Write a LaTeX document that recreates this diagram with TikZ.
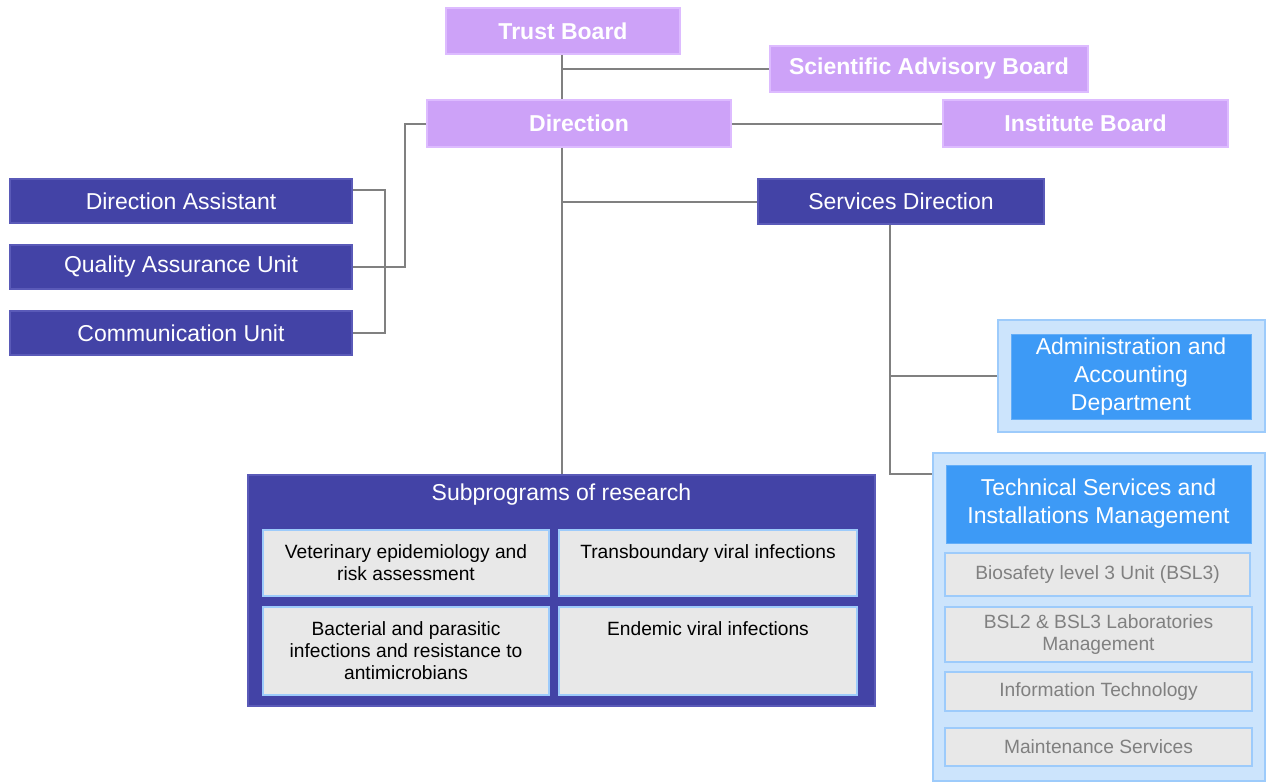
\documentclass[tikz,border=0pt]{standalone}
\usepackage{fontspec}
\setmainfont{Liberation Sans}
\usetikzlibrary{positioning}
\definecolor{board}{HTML}{CDA2F8}
\definecolor{boardline}{HTML}{DDBBFF}
\definecolor{unit}{HTML}{4343A6}
\definecolor{unitline}{HTML}{5A5AB8}
\definecolor{header}{HTML}{3D9AF6}
\definecolor{frame}{HTML}{CCE4FC}
\definecolor{frameline}{HTML}{9DCBFB}
\definecolor{itemgrey}{HTML}{E8E8E8}
\definecolor{linegrey}{HTML}{808080}
\newcommand{\orgfont}{\fontsize{11.5}{14}\selectfont}
\newcommand{\itemfont}{\fontsize{9.6}{11}\selectfont}

\begin{document}
\begin{tikzpicture}[x=0.5pt, y=-0.5pt, font=\orgfont,
    board/.style={draw=boardline, line width=0.8pt, fill=board, text=white, font=\bfseries\orgfont, minimum height=23pt, inner sep=0pt},
    unit/.style={draw=unitline, line width=0.8pt, fill=unit, text=white, minimum height=22pt, inner sep=0pt},
    header/.style={fill=header, draw=header!80!white, text=white, align=center, inner sep=0pt},
    outerbox/.style={fill=frame, draw=frameline, line width=1pt, inner sep=0pt},
    research/.style={fill=itemgrey, draw=frameline, line width=0.8pt, font=\itemfont, align=center, inner sep=0pt},
    techitem/.style={research, text=linegrey},
    conn/.style={draw=linegrey, line width=1pt}]
  \useasboundingbox (0,0) rectangle (1268,783);

  % boards and direction
  \node[board, minimum width=117pt] (trust) at (563,31) {Trust Board};
  \node[board, minimum width=159pt] (sab) at (929,69) {Scientific Advisory Board};
  \node[board, minimum width=152pt, minimum height=23.5pt] (dir) at (579,123.5) {Direction};
  \node[board, minimum width=142.5pt, minimum height=23.5pt] (inst) at (1085.5,123.5) {Institute Board};

  % staff units
  \node[unit, minimum width=171pt] (da) at (181,201) {Direction Assistant};
  \node[unit, minimum width=171pt] (qa) at (181,267) {Quality Assurance Unit};
  \node[unit, minimum width=171pt] (cu) at (181,333) {Communication Unit};
  \node[unit, minimum width=143pt, minimum height=22.5pt] (servdir) at (901,201.5) {Services Direction};

  % research
  \node[unit, minimum width=313.5pt, minimum height=115.5pt] (sub) at (561.5,590.5) {};
  \node[text=white] (subtitle) at (561.5,495) {Subprograms of research};
  \node[research, minimum width=143pt, minimum height=33pt] (ve) at (406,563) {Veterinary epidemiology and\\risk assessment};
  \node[research, minimum width=149pt, minimum height=33pt] (tvi) at (708,563) {Transboundary viral infections\\~};
  \node[research, minimum width=143pt, minimum height=44pt] (bp) at (406,651) {Bacterial and parasitic\\infections and resistance to\\antimicrobians};
  \node[research, minimum width=149pt, minimum height=44pt] (evi) at (708,651) {Endemic viral infections\\~\\~};

  % services
  \node[outerbox, minimum width=133.5pt, minimum height=56pt] (adminframe) at (1131.5,376) {};
  \node[header, minimum width=120pt, minimum height=42.5pt] (admin) at (1131,376.5) {Administration and\\Accounting\\Department};
  \node[outerbox, minimum width=166pt, minimum height=164pt] (techgrp) at (1099,617) {};
  \node[header, minimum width=152.5pt, minimum height=39pt] (tech) at (1098.5,504) {Technical Services and\\Installations Management};
  \node[techitem, minimum width=152.5pt, minimum height=21.5pt] (bsl3) at (1097.5,574.5) {Biosafety level 3 Unit (BSL3)};
  \node[techitem, minimum width=153.5pt, minimum height=27.5pt] (bsl2) at (1098.5,634.5) {BSL2 \& BSL3 Laboratories\\Management};
  \node[techitem, minimum width=153.5pt, minimum height=19.5pt] (it) at (1098.5,691.5) {Information Technology};
  \node[techitem, minimum width=153.5pt, minimum height=19pt] (maint) at (1098.5,747) {Maintenance Services};

  % connectors
  \draw[conn] (sub.north |- trust.south) -- (sub.north |- dir.north);
  \draw[conn] (sub.north |- sab.west) -- (sab.west);
  \draw[conn] (dir.east) -- (inst.west);
  \draw[conn] (dir.south -| sub.north) -- (sub.north);
  \draw[conn] (sub.north |- servdir.west) -- (servdir.west);
  \draw[conn] (dir.west) -- ++(-21,0) |- (qa.east);
  \draw[conn] ([yshift=5.5pt]da.east) -- ++(32,0) |- (cu.east);
  \coordinate (sdfoot) at ([xshift=-5.5pt]servdir.south);
  \draw[conn] (sdfoot) |- ([yshift=-11pt]techgrp.north west);
  \draw[conn] (sdfoot |- adminframe.west) -- (adminframe.west);
\end{tikzpicture}
\end{document}
